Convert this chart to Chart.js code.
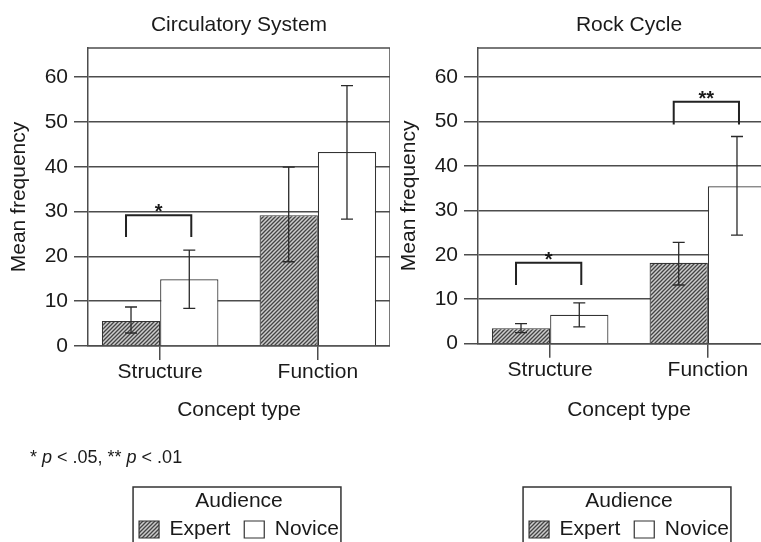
<!DOCTYPE html>
<html>
<head>
<meta charset="utf-8">
<script src="https://cdn.jsdelivr.net/npm/chart.js@4.4.1/dist/chart.umd.min.js"></script>
<style>
  html, body { margin: 0; padding: 0; background: #fff; }
  body { width: 761px; height: 542px; overflow: hidden; position: relative; }
  .panel { position: absolute; top: 0; width: 390px; height: 550px; }
  #left { left: 0; }
  #right { left: 390px; }
  #note {
    position: absolute; left: 30px; top: 447px;
    font: 18px "Liberation Sans", Arial, sans-serif; line-height: 20px; color: #1a1a1a;
  }
</style>
</head>
<body>
<div class="panel" id="left"><canvas id="circChart" width="390" height="550"></canvas></div>
<div class="panel" id="right"><canvas id="rockChart" width="390" height="550"></canvas></div>
<div id="note">* <i>p</i> &lt; .05, ** <i>p</i> &lt; .01</div>
<script>
// Concept types on the x axis and the y ticks
const categories = ["Structure", "Function"];
const yTicks = [0, 10, 20, 30, 40, 50, 60];
const audiences = ["Expert", "Novice"];

// Circulatory System (means and error bar ends)
const circExpert = [5.6, 29.2];
const circExpertLow = [2.9, 18.8];
const circExpertHigh = [8.7, 39.9];
const circNovice = [14.9, 43.3];
const circNoviceLow = [8.4, 28.3];
const circNoviceHigh = [21.4, 58.1];
const circBrackets = [{ index: 0, top: 29.2, foot: 24.3, label: "*" }];

// Rock Cycle
const rockExpert = [3.5, 18.2];
const rockExpertLow = [2.5, 13.2];
const rockExpertHigh = [4.5, 22.8];
const rockNovice = [6.5, 35.4];
const rockNoviceLow = [3.8, 24.4];
const rockNoviceHigh = [9.2, 46.6];
const rockBrackets = [
  { index: 0, top: 18.2, foot: 13.2, label: "*" },
  { index: 1, top: 54.4, foot: 49.3, label: "**" }
];

const INK = "#1a1a1a";
const LINE = "#4d4d4d";
const FONT = '"Liberation Sans", Arial, Helvetica, sans-serif';

Chart.defaults.font.family = FONT;
Chart.defaults.color = INK;

function makeHatch() {
  const c = document.createElement("canvas");
  c.width = 4;
  c.height = 4;
  const g = c.getContext("2d");
  g.fillStyle = "#cccccc";
  g.fillRect(0, 0, 4, 4);
  g.strokeStyle = "#444444";
  g.lineWidth = 1.3;
  g.beginPath();
  g.moveTo(-1, 5); g.lineTo(5, -1);
  g.moveTo(-1, 1); g.lineTo(1, -1);
  g.moveTo(3, 5); g.lineTo(5, 3);
  g.stroke();
  return g.createPattern(c, "repeat");
}
const hatch = makeHatch();

// error bars from errLow / errHigh on each dataset
const errorBars = {
  id: "errorBars",
  afterDatasetsDraw(chart) {
    const ctx = chart.ctx;
    const y = chart.scales.y;
    ctx.save();
    ctx.strokeStyle = "#2a2a2a";
    ctx.lineWidth = 1.3;
    chart.data.datasets.forEach((ds, i) => {
      chart.getDatasetMeta(i).data.forEach((bar, j) => {
        const hi = y.getPixelForValue(ds.errHigh[j]);
        const lo = y.getPixelForValue(ds.errLow[j]);
        ctx.beginPath();
        ctx.moveTo(bar.x, hi); ctx.lineTo(bar.x, lo);
        ctx.moveTo(bar.x - 6, hi); ctx.lineTo(bar.x + 6, hi);
        ctx.moveTo(bar.x - 6, lo); ctx.lineTo(bar.x + 6, lo);
        ctx.stroke();
      });
    });
    ctx.restore();
  }
};

// significance brackets between the two bars of a category
const brackets = {
  id: "brackets",
  afterDatasetsDraw(chart, args, opts) {
    const ctx = chart.ctx;
    const y = chart.scales.y;
    ctx.save();
    ctx.strokeStyle = "#222";
    ctx.lineWidth = 2;
    ctx.fillStyle = INK;
    ctx.font = "bold 20px " + FONT;
    ctx.textAlign = "center";
    (opts.items || []).forEach((b) => {
      const x1 = chart.getDatasetMeta(0).data[b.index].x - 5;
      const x2 = chart.getDatasetMeta(1).data[b.index].x + 2;
      const top = y.getPixelForValue(b.top);
      const foot = y.getPixelForValue(b.foot);
      ctx.beginPath();
      ctx.moveTo(x1, foot); ctx.lineTo(x1, top); ctx.lineTo(x2, top); ctx.lineTo(x2, foot);
      ctx.stroke();
      const m = ctx.measureText(b.label);
      const mid = top - 7;
      ctx.fillText(b.label, (x1 + x2) / 2, mid + (m.actualBoundingBoxAscent - m.actualBoundingBoxDescent) / 2);
    });
    ctx.restore();
  }
};

// top and right sides of the plot frame, plus the box round the legend
const frame = {
  id: "frame",
  beforeDatasetsDraw(chart) {
    const { ctx, chartArea: a } = chart;
    ctx.save();
    ctx.strokeStyle = LINE;
    ctx.lineWidth = 1.5;
    ctx.beginPath();
    ctx.moveTo(a.left, a.top); ctx.lineTo(a.right, a.top); ctx.lineTo(a.right, a.bottom);
    ctx.stroke();
    ctx.restore();
  },
  afterDraw(chart) {
    const lg = chart.legend;
    const boxes = lg.legendHitBoxes;
    if (!boxes || !boxes.length) return;
    const left = Math.min(...boxes.map((b) => b.left)) - 6;
    const right = Math.max(...boxes.map((b) => b.left + b.width)) + 2;
    const top = lg.top + lg.options.title.padding.top - 4;
    const ctx = chart.ctx;
    ctx.save();
    ctx.strokeStyle = "#333";
    ctx.lineWidth = 1.5;
    ctx.strokeRect(left, top, right - left, 200);
    ctx.restore();
  }
};

function makeChart(id, title, expert, expertLow, expertHigh, novice, noviceLow, noviceHigh, bracketList, xAxisHeight) {
  const ctx = document.getElementById(id).getContext("2d");
  return new Chart(ctx, {
    type: "bar",
    data: {
      datasets: [
        {
          label: audiences[0],
          data: expert.map((v, i) => ({ x: i, y: v })),
          errLow: expertLow,
          errHigh: expertHigh,
          backgroundColor: hatch,
          borderColor: "#333",
          borderWidth: 1.2
        },
        {
          label: audiences[1],
          data: novice.map((v, i) => ({ x: i, y: v })),
          errLow: noviceLow,
          errHigh: noviceHigh,
          backgroundColor: "#ffffff",
          borderColor: "#333",
          borderWidth: 1.2
        }
      ]
    },
    options: {
      responsive: false,
      animation: false,
      categoryPercentage: 0.739,
      barPercentage: 1,
      layout: { padding: 0 },
      plugins: {
        title: {
          display: true,
          text: title,
          fullSize: false,
          color: INK,
          font: { size: 21, weight: "normal" },
          padding: { top: 13, bottom: 9.8 }
        },
        legend: {
          position: "bottom",
          fullSize: false,
          labels: { boxWidth: 20, boxHeight: 17, padding: 14, color: INK, font: { size: 21 } },
          title: {
            display: true,
            text: "Audience",
            color: INK,
            font: { size: 21, lineHeight: 0 },
            padding: { top: 64.4, bottom: 14 }
          }
        },
        tooltip: { enabled: false },
        brackets: { items: bracketList }
      },
      scales: {
        x: {
          type: "linear",
          offset: false,
          min: -0.4575,
          max: 1.4575,
          afterBuildTicks: (s) => {
            s.ticks = categories.map((c, i) => ({ value: i }));
          },
          afterFit: (s) => { s.height = xAxisHeight; },
          ticks: {
            padding: 0,
            autoSkip: false,
            maxRotation: 0,
            color: INK,
            font: { size: 21 },
            callback: (v) => categories[v]
          },
          grid: { offset: false, drawOnChartArea: false, tickLength: 14, color: LINE, lineWidth: 1.5 },
          border: { color: LINE, width: 1.5 },
          title: { display: true, text: "Concept type", color: INK, font: { size: 21 }, padding: { top: 4, bottom: 4 } }
        },
        y: {
          min: 0,
          max: 66.5,
          afterBuildTicks: (s) => {
            s.ticks = yTicks.map((v) => ({ value: v }));
          },
          afterFit: (s) => { s.width = 88; },
          ticks: { padding: 6, color: INK, font: { size: 21 } },
          grid: { color: LINE, lineWidth: 1.5, tickLength: 14 },
          border: { color: LINE, width: 1.5 },
          title: { display: true, text: "Mean frequency", color: INK, font: { size: 21 }, padding: { top: 7, bottom: 0 } }
        }
      }
    },
    plugins: [frame, errorBars, brackets]
  });
}

makeChart("circChart", "Circulatory System", circExpert, circExpertLow, circExpertHigh,
  circNovice, circNoviceLow, circNoviceHigh, circBrackets, 80.6);
makeChart("rockChart", "Rock Cycle", rockExpert, rockExpertLow, rockExpertHigh,
  rockNovice, rockNoviceLow, rockNoviceHigh, rockBrackets, 82.9);
</script>
</body>
</html>
